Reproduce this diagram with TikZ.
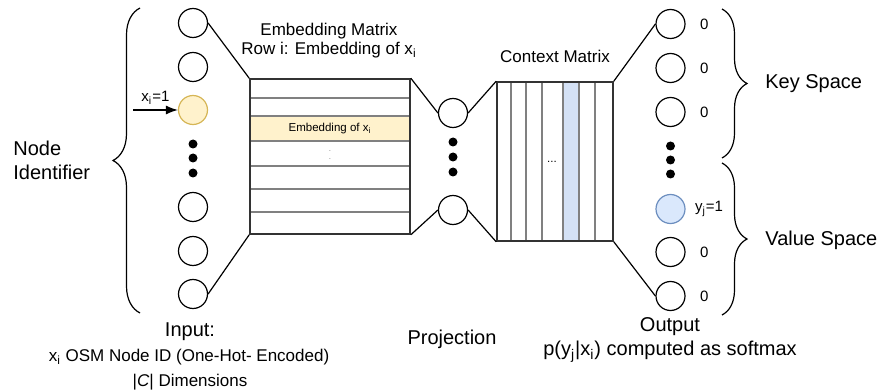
\documentclass[tikz,border=0pt]{standalone}
\usepackage{fontspec}
\setmainfont{Liberation Sans}
\usepackage{xcolor}
\usepackage{tikz}
\usetikzlibrary{arrows.meta,positioning}
\usetikzlibrary{decorations.pathreplacing}

\definecolor{embfill}{HTML}{FFF2CC}
\definecolor{embdraw}{HTML}{D6B656}
\definecolor{ctxfill}{HTML}{D4E1F5}
\definecolor{outfill}{HTML}{DAE8FC}
\definecolor{outdraw}{HTML}{6C8EBF}
\definecolor{rowgray}{HTML}{808080}
\definecolor{boxdark}{HTML}{333333}

\tikzset{
  neuron/.style={circle,draw,line width=0.6pt,minimum size=14.5pt,inner sep=0pt},
  blob/.style={circle,fill,minimum size=4.5pt,inner sep=0pt},
  matbox/.style={draw=boxdark,line width=0.8pt,inner sep=0pt},
  rowline/.style={draw=rowgray,line width=0.65pt},
  conn/.style={line width=0.6pt},
  curly/.style={line width=0.6pt,decorate},
  bigtext/.style={font=\fontsize{10}{12}\selectfont,inner sep=0pt},
  midtext/.style={font=\fontsize{8.5}{9.5}\selectfont,inner sep=0pt},
  numtext/.style={font=\fontsize{7.5}{9}\selectfont,inner sep=0pt},
  rowtext/.style={font=\fontsize{5.75}{7}\selectfont}
}

\begin{document}
\begin{tikzpicture}[x=0.5pt,y=-0.5pt]
\useasboundingbox (0,0) rectangle (884,390);

% Input layer
\node[neuron] (in1) at (193,23) {};
\node[neuron] (in2) at (193,67) {};
\node[neuron,fill=embfill,draw=embdraw] (inx) at (193,110) {};
\node[blob] (ind1) at (193,144) {};
\node[blob] (ind2) at (193,158) {};
\node[blob] (ind3) at (193,173) {};
\node[neuron] (in4) at (193,207) {};
\node[neuron] (in5) at (193,251) {};
\node[neuron] (in6) at (193,294) {};

% One-hot input
\coordinate (xin) at (133,110);
\draw[conn,-{Latex[length=6pt,width=4.5pt]}] (xin) -- (inx)
  node[midway,above=2.5pt,numtext] {x\textsubscript{i}=1};

% Embedding matrix
\node[fill=embfill,minimum width=80pt,minimum height=12.5pt,inner sep=0pt,rowtext] (embrow) at (330,128.5) {Embedding of x\textsubscript{i}};
\node[font=\fontsize{4}{5}\selectfont,text=rowgray,inner sep=0pt] (embdots) at (330,153.5) {$\vdots$};
\draw[rowline] (250,98) -- (410,98);
\draw[rowline] (250,116) -- (410,116);
\draw[rowline] (250,141) -- (410,141);
\draw[rowline] (250,166) -- (410,166);
\draw[rowline] (250,189) -- (410,189);
\draw[rowline] (250,212) -- (410,212);
\node[matbox,minimum width=80pt,minimum height=77.5pt] (emb) at (330,156.5) {};
\node[midtext,align=center] (embtitle) at (329,40.5) {Embedding Matrix\\Row i: Embedding of x\textsubscript{i}};

% Projection layer
\node[neuron] (pr1) at (453,113) {};
\node[blob] (prd1) at (453,142) {};
\node[blob] (prd2) at (453,157) {};
\node[blob] (prd3) at (453,172) {};
\node[neuron] (pr2) at (453,210) {};

% Context matrix
\node[fill=ctxfill,minimum width=8pt,minimum height=79.5pt,inner sep=0pt] (ctxcol) at (571,161.5) {};
\draw[rowline] (511,82) -- (511,241);
\draw[rowline] (526,82) -- (526,241);
\draw[rowline] (542,82) -- (542,241);
\draw[rowline] (563,82) -- (563,241);
\draw[rowline] (579,82) -- (579,241);
\draw[rowline] (595,82) -- (595,241);
\node[rowtext] (ctxdots) at (552,162) {...};
\node[matbox,minimum width=58pt,minimum height=79.5pt] (ctx) at (555,161.5) {};
\node[midtext] (ctxtitle) at (555,56) {Context Matrix};

% Output layer
\node[neuron] (out1) at (670.5,24) {};
\node[neuron] (out2) at (670.5,68) {};
\node[neuron] (out3) at (670.5,112) {};
\node[blob] (outd1) at (670.5,146) {};
\node[blob] (outd2) at (670.5,160) {};
\node[blob] (outd3) at (670.5,174) {};
\node[neuron,fill=outfill,draw=outdraw] (outy) at (670.5,209) {};
\node[neuron] (out5) at (670.5,252) {};
\node[neuron] (out6) at (670.5,296) {};
\node[numtext,right=7pt of out1] (o1) {0};
\node[numtext,right=7pt of out2] (o2) {0};
\node[numtext,right=7pt of out3] (o3) {0};
\node[numtext,right=4.5pt of outy] (oy) {y\textsubscript{j}=1};
\node[numtext,right=7pt of out5] (o5) {0};
\node[numtext,right=7pt of out6] (o6) {0};

% Connectors
\draw[conn] (in1.east) -- (emb.north west);
\draw[conn] (in6.east) -- (emb.south west);
\draw[conn] (emb.north east) -- (pr1.west);
\draw[conn] (emb.south east) -- (pr2.west);
\draw[conn] (pr1.east) -- (ctx.north west);
\draw[conn] (pr2.east) -- (ctx.south west);
\draw[conn] (ctx.north east) -- (out1.west);
\draw[conn] (ctx.south east) -- (out6.west);

% Braces
\coordinate (lbbot) at (140,313);
\coordinate (lbtop) at (140,8);
\draw[curly,decoration={brace,amplitude=13.5pt}] (lbbot) -- (lbtop);
\coordinate (kbtop) at (722,9);
\coordinate (kbbot) at (722,158);
\draw[curly,decoration={brace,amplitude=12.5pt}] (kbtop) -- (kbbot);
\coordinate (vbtop) at (722,163);
\coordinate (vbbot) at (722,315);
\draw[curly,decoration={brace,amplitude=12.5pt}] (vbtop) -- (vbbot);

% Labels
\node[bigtext,align=left,anchor=west] (nodeid) at (13,160) {Node\\Identifier};
\node[bigtext,anchor=west] (keysp) at (765,84) {Key Space};
\node[bigtext,anchor=west] (valsp) at (765,240) {Value Space};
\node[bigtext] (inlbl) at (190,332) {Input:};
\node[midtext] (inlbl2) at (189,357) {x\textsubscript{i} OSM Node ID (One-Hot- Encoded)};
\node[midtext] (inlbl3) at (190,382) {|\textit{C}| Dimensions};
\node[bigtext] (prlbl) at (452,339) {Projection};
\node[bigtext,align=center] (outlbl) at (670,340) {Output\\p(y\textsubscript{j}|x\textsubscript{i}) computed as softmax};
\end{tikzpicture}
\end{document}
